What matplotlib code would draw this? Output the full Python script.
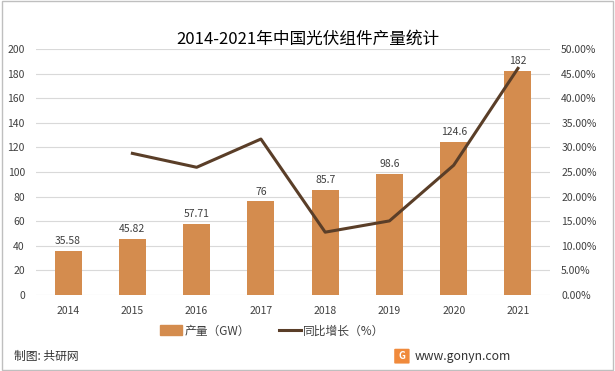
import matplotlib.pyplot as plt
from matplotlib.patches import Rectangle, FancyBboxPatch
from matplotlib.lines import Line2D
from matplotlib.ticker import FuncFormatter

plt.rcParams['font.family'] = ['Noto Sans CJK SC', 'DejaVu Sans']

years = ['2014', '2015', '2016', '2017', '2018', '2019', '2020', '2021']
output_gw = [35.58, 45.82, 57.71, 76, 85.7, 98.6, 124.6, 182]
bar_labels = ['35.58', '45.82', '57.71', '76', '85.7', '98.6', '124.6', '182']
growth_years = years[1:]
growth_pct = [28.78, 25.95, 31.69, 12.76, 15.05, 26.37, 46.07]

bar_color = '#D48C4E'
line_color = '#5A3E28'
grid_color = '#D9D9D9'
text_color = '#404040'

fig = plt.figure(figsize=(6.15, 3.71), dpi=100)
ax = fig.add_axes([0.0585, 0.205, 0.836, 0.663])
x = list(range(len(years)))

ax.bar(x, output_gw, width=0.42, color=bar_color, zorder=2)
for xi, v, lab in zip(x, output_gw, bar_labels):
    ax.text(xi, v + 4, lab, ha='center', va='bottom', fontsize=7.5, color=text_color)

ax.set_ylim(0, 200)
ax.set_yticks(range(0, 201, 20))
ax.set_xlim(-0.5, 7.5)
ax.set_xticks(x)
ax.set_xticklabels(years)
ax.yaxis.grid(True, color=grid_color, linewidth=0.8, zorder=0)
ax.set_axisbelow(True)
for s in ax.spines.values():
    s.set_visible(False)
ax.tick_params(axis='both', length=0, labelsize=7.5, colors=text_color)
ax.tick_params(axis='x', pad=8)
ax.tick_params(axis='y', pad=8)

ax2 = ax.twinx()
ax2.plot(x[1:], growth_pct, color=line_color, linewidth=2.2, zorder=3)
ax2.set_ylim(0, 50)
ax2.set_yticks(range(0, 51, 5))
ax2.yaxis.set_major_formatter(FuncFormatter(lambda v, p: f'{v:.2f}%'))
for s in ax2.spines.values():
    s.set_visible(False)
ax2.tick_params(axis='y', length=0, labelsize=7.5, colors=text_color, pad=8)

fig.text(0.5, 0.895, '2014-2021年中国光伏组件产量统计', ha='center', va='center',
         fontsize=12, color='#000000')

handles = [Rectangle((0, 0), 1, 1, color=bar_color),
           Line2D([0], [0], color=line_color, linewidth=2.2)]
fig.legend(handles, ['产量（GW）', '同比增长（%）'], loc='center', ncol=2,
           bbox_to_anchor=(0.443, 0.108), frameon=False, fontsize=8.5,
           handlelength=1.9, handleheight=0.9, handletextpad=0.2,
           columnspacing=2.4, labelcolor=text_color)

fig.text(0.022, 0.038, '制图: 共研网', ha='left', va='center', fontsize=8.5, color='#333333')
fig.patches.append(FancyBboxPatch((0.643, 0.022), 0.021, 0.036, boxstyle='round,pad=0.002',
                                  transform=fig.transFigure, facecolor='#F08A3C',
                                  edgecolor='none'))
fig.text(0.6535, 0.040, 'G', ha='center', va='center', fontsize=7, color='white',
         fontweight='bold')
fig.text(0.674, 0.040, 'www.gonyn.com', ha='left', va='center', fontsize=8.8, color='#333333')

fig.patches.append(Rectangle((0.003, 0.004), 0.994, 0.992, transform=fig.transFigure,
                             fill=False, edgecolor='#BFBFBF', linewidth=1))

fig.savefig('out.png', dpi=100)
